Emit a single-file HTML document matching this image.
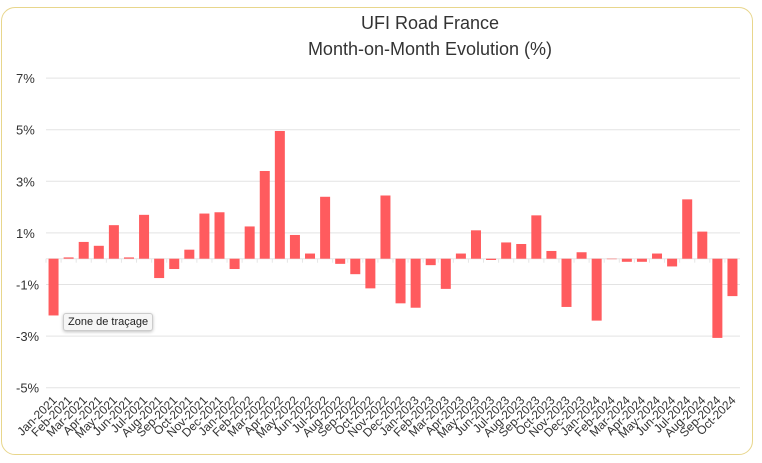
<!DOCTYPE html>
<html><head><meta charset="utf-8"><style>
body{margin:0;background:#fff;font-family:"Liberation Sans",sans-serif}
#wrap{position:relative;width:762px;height:463px}
#frame{position:absolute;left:1px;top:7px;width:750px;height:446px;border:1.5px solid #e8d68c;border-radius:14px}
#tip{position:absolute;left:63px;top:313px;padding:2px 4px;font-size:11px;color:#222;background:#f6f6f6;border:1px solid #ccc;border-radius:3px;box-shadow:0 1px 3px rgba(0,0,0,.25)}
</style></head><body>
<div id="wrap">
<div id="frame"></div>
<svg id="chart" width="762" height="463" style="position:absolute;left:0;top:0">
<text x="430" y="29" text-anchor="middle" font-size="18" fill="#333">UFI Road France</text>
<text x="430" y="55" text-anchor="middle" font-size="18" fill="#333">Month-on-Month Evolution (%)</text>
<g id="grid"></g><g id="bars"></g><g id="xlabels"></g>
</svg>
<div id="tip">Zone de traçage</div>
</div>
<script>
const months=["Jan","Feb","Mar","Apr","May","Jun","Jul","Aug","Sep","Oct","Nov","Dec"];
const categories=[];
for(let y=2021;y<=2024;y++)for(let m=0;m<12;m++){if(y===2024&&m>9)break;categories.push(months[m]+"-"+y);}
const values=[-2.2,0.05,0.65,0.5,1.3,0.05,1.7,-0.75,-0.4,0.35,1.75,1.8,-0.4,1.25,3.4,4.95,0.92,0.2,2.4,-0.2,-0.6,-1.15,2.45,-1.73,-1.9,-0.25,-1.17,0.2,1.1,-0.05,0.63,0.57,1.68,0.3,-1.87,0.25,-2.4,0,-0.12,-0.12,0.2,-0.3,2.3,1.05,-3.07,-1.45];
const yTicks=[-5,-3,-1,1,3,5,7];
const yTickLabels=["-5%","-3%","-1%","1%","3%","5%","7%"];
const NS="http://www.w3.org/2000/svg";
const x0=46,x1=740,yZero=258.7,pxPer=25.8;
const band=(x1-x0)/categories.length;
const yS=v=>yZero-v*pxPer;
const xS=i=>x0+band*(i+0.5);
function mk(t,a,p){const e=document.createElementNS(NS,t);for(const k in a)e.setAttribute(k,a[k]);p.appendChild(e);return e;}
const grid=document.getElementById('grid'),bars=document.getElementById('bars'),xl=document.getElementById('xlabels');
yTicks.forEach((t,i)=>{
 const l=mk('line',{x1:x0,x2:x1,y1:yS(t),y2:yS(t),stroke:'#e3e3e3','stroke-width':1},grid);
 
 
 const tx=mk('text',{x:16,y:yS(t)+5,'font-size':13,fill:'#333'},grid);
 tx.textContent=yTickLabels[i];
 
 
});
const zl=mk('line',{x1:x0,x2:x1,y1:yZero,y2:yZero,stroke:'#e6e6e6','stroke-width':1},grid);


categories.forEach((c,i)=>{
 const tk=mk('line',{x1:x0+band*i,x2:x0+band*i,y1:yZero,y2:yZero+4,stroke:'#e6e6e6'},grid);
 
 
 const v=values[i],w=10;
 const r=mk('rect',{x:xS(i)-w/2,y:Math.min(yS(v),yZero),width:w,height:Math.max(Math.abs(v*pxPer),0.5),fill:'#ff5b5e'},bars);
 
 
 const cx=xS(i)+4,cy=401;
 const t=mk('text',{x:cx,y:cy,'font-size':12,fill:'#333','text-anchor':'end',transform:`rotate(-45 ${cx} ${cy})`},xl);
 t.textContent=c;
 
 
});
</script>
</body></html>
